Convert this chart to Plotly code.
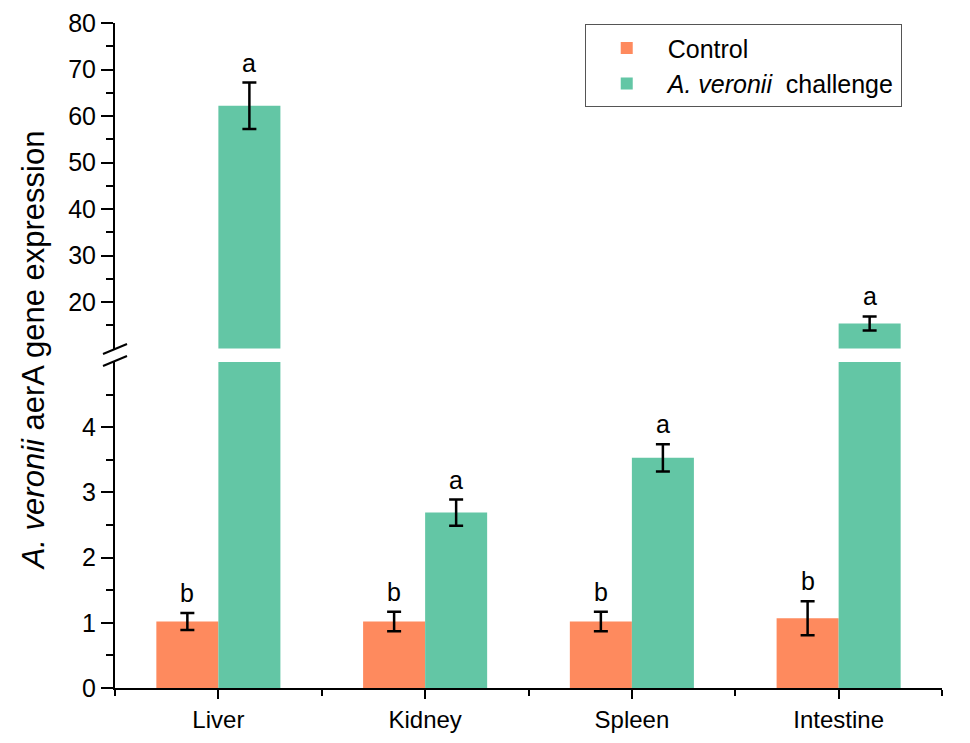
import plotly.graph_objects as go

categories = ["Liver", "Kidney", "Spleen", "Intestine"]
control = [1.02, 1.02, 1.02, 1.07]
control_err = [0.13, 0.15, 0.15, 0.26]
challenge = [62.2, 2.69, 3.53, 15.4]
challenge_err = [5.0, 0.20, 0.21, 1.5]
control_letters = ["b", "b", "b", "b"]
challenge_letters = ["a", "a", "a", "a"]

series_names = ["Control", "<i>A. veronii</i>  challenge"]
colors = ["#FE8A5E", "#63C6A5"]

LOW_MAX = 5
HIGH_MIN = 10
BAR_W = 0.3
FONT = "Arial, Liberation Sans, sans-serif"

xs = list(range(len(categories)))

fig = go.Figure()

series = [
    (control, control_err, control_letters, -BAR_W),
    (challenge, challenge_err, challenge_letters, 0.0),
]

for k, (vals, errs, letters, off) in enumerate(series):
    for panel, yax in (("low", "y"), ("high", "y2")):
        if panel == "low":
            e = [er if v + er <= LOW_MAX else None for v, er in zip(vals, errs)]
        else:
            e = [er if v > HIGH_MIN else None for v, er in zip(vals, errs)]
        fig.add_trace(go.Bar(
            x=xs, y=vals, width=BAR_W, offset=off,
            marker=dict(color=colors[k], line=dict(width=0)),
            name=series_names[k], legendgroup=series_names[k],
            showlegend=(panel == "low"),
            xaxis="x", yaxis=yax,
            error_y=dict(type="data", array=e, visible=True,
                         color="black", thickness=2.5, width=7),
        ))
    for i, (v, er, t) in enumerate(zip(vals, errs, letters)):
        top = v + er
        fig.add_annotation(
            x=xs[i] + off + BAR_W / 2, y=top,
            xref="x", yref=("y" if top <= LOW_MAX else "y2"),
            text=t, showarrow=False, yanchor="bottom", yshift=4,
            font=dict(family=FONT, size=25, color="black"),
        )

# y-axis title spanning both panels
fig.add_annotation(
    x=-0.099, y=0.508, xref="paper", yref="paper",
    xanchor="center", yanchor="middle",
    text="<i>A. veronii</i> aerA gene expression",
    textangle=-90, showarrow=False,
    font=dict(family=FONT, size=31, color="black"),
)

# axis break marks
for y0, y1 in ((0.5023, 0.5173), (0.4842, 0.4992)):
    fig.add_shape(type="line", xref="paper", yref="paper",
                  x0=-0.0145, x1=0.0145, y0=y0, y1=y1,
                  line=dict(color="black", width=2))

axis_common = dict(
    showline=True, linecolor="black", linewidth=2,
    ticks="outside", ticklen=12, tickwidth=2, tickcolor="black",
    showgrid=False, zeroline=False, automargin=False,
    tickfont=dict(family=FONT, size=25, color="black"),
)

minor_common = dict(ticklen=7, tickwidth=2, tickcolor="black", ticks="outside")

xaxis_cfg = dict(axis_common)
xaxis_cfg.update(ticklen=9, tickfont=dict(family=FONT, size=24, color="black"))

fig.update_layout(
    width=954, height=727,
    margin=dict(l=107, r=20, t=15, b=47, autoexpand=False),
    paper_bgcolor="white", plot_bgcolor="white",
    barmode="overlay",
    xaxis=dict(
        **xaxis_cfg,
        range=[-0.5, len(categories) - 0.5],
        tickmode="array", tickvals=xs, ticktext=categories,
        minor=dict(tickmode="array",
                   tickvals=[i - 0.5 for i in range(len(categories) + 1)],
                   ticklen=6, tickwidth=2, tickcolor="black", ticks="outside"),
        anchor="y",
    ),
    yaxis=dict(
        **axis_common,
        domain=[0, 0.4902], range=[0, LOW_MAX],
        tickmode="array", tickvals=[0, 1, 2, 3, 4],
        minor=dict(tickmode="array", tickvals=[0.5, 1.5, 2.5, 3.5, 4.5],
                   **minor_common),
        anchor="x",
    ),
    yaxis2=dict(
        **axis_common,
        domain=[0.5105, 1], range=[HIGH_MIN, 80],
        tickmode="array", tickvals=[20, 30, 40, 50, 60, 70, 80],
        minor=dict(tickmode="array", tickvals=[15, 25, 35, 45, 55, 65, 75],
                   **minor_common),
        anchor="x",
    ),
    legend=dict(
        x=0.568, y=0.998, xanchor="left", yanchor="top",
        bordercolor="#555555", borderwidth=1, bgcolor="white",
        font=dict(family=FONT, size=25, color="black"),
        itemwidth=72, tracegroupgap=0,
    ),
    showlegend=True,
)

fig.write_html("out.html")
